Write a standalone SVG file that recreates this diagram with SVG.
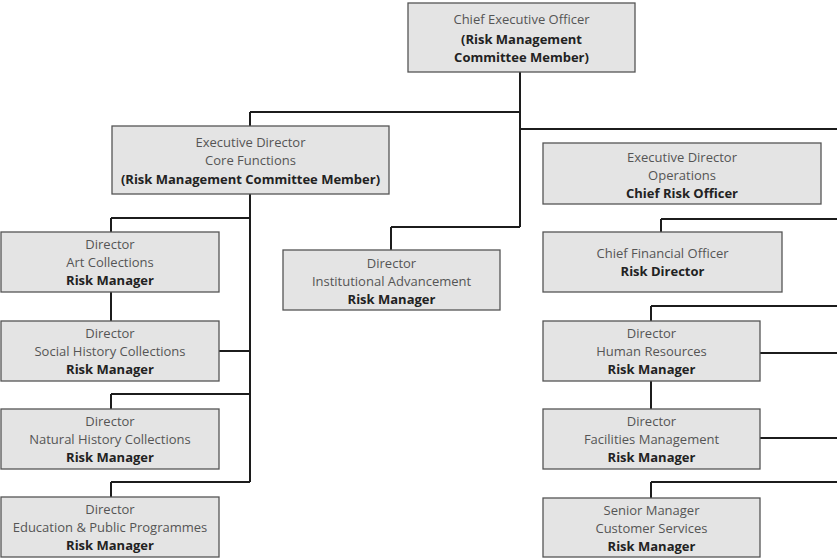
<svg xmlns="http://www.w3.org/2000/svg" width="837" height="558" viewBox="0 0 837 558">
<style>
.box{fill:#e4e4e4;stroke:#555;stroke-width:1.3}
text{font-family:"Open Sans","Liberation Sans",sans-serif;font-size:13px;text-anchor:middle;fill:#555}
.b{font-weight:bold;fill:#222}
.c{fill:none;stroke:#1c1c1c;stroke-width:2}
</style>
<rect width="837" height="558" fill="#fff"/>
<g id="connectors" class="c">
<path d="M520,72V227M250,112H520M250,112V126M520,129H837M391,227H520M391,227V250"/>
<path d="M250,194V482M111,218H250M111,218V232M111,292V321M219,351H250M111,394H250M111,394V409M111,482H250M111,482V497"/>
<path d="M661,219H837M661,219V232M651,306H837M651,306V321M760,353H837M651,381V409M760,438H837M651,482H837M651,482V498"/>
</g>
<g id="ceo"><rect class="box" x="408" y="3" width="227" height="69"/>
<text x="521.5" y="23.5">Chief Executive Officer</text><text class="b" x="521.5" y="43.5">(Risk Management</text><text class="b" x="521.5" y="62">Committee Member)</text></g>
<g id="exec-core"><rect class="box" x="112" y="126" width="277" height="68"/>
<text x="250.5" y="146.5">Executive Director</text><text x="250.5" y="165">Core Functions</text><text class="b" x="250.5" y="183.5">(Risk Management Committee Member)</text></g>
<g id="exec-ops"><rect class="box" x="543" y="143" width="278" height="61"/>
<text x="682" y="161.5">Executive Director</text><text x="682" y="179.5">Operations</text><text class="b" x="682" y="197.5">Chief Risk Officer</text></g>
<g id="art"><rect class="box" x="1" y="232" width="218" height="60"/>
<text x="110" y="248.5">Director</text><text x="110" y="266.5">Art Collections</text><text class="b" x="110" y="284.5">Risk Manager</text></g>
<g id="social"><rect class="box" x="1" y="321" width="218" height="60"/>
<text x="110" y="337.5">Director</text><text x="110" y="355.5">Social History Collections</text><text class="b" x="110" y="373.5">Risk Manager</text></g>
<g id="natural"><rect class="box" x="1" y="409" width="218" height="60"/>
<text x="110" y="425.5">Director</text><text x="110" y="443.5">Natural History Collections</text><text class="b" x="110" y="461.5">Risk Manager</text></g>
<g id="education"><rect class="box" x="1" y="497" width="218" height="60"/>
<text x="110" y="513.5">Director</text><text x="110" y="531.5">Education &amp; Public Programmes</text><text class="b" x="110" y="549.5">Risk Manager</text></g>
<g id="inst-adv"><rect class="box" x="283" y="250" width="217" height="60"/>
<text x="391.5" y="267.5">Director</text><text x="391.5" y="285.5">Institutional Advancement</text><text class="b" x="391.5" y="303.5">Risk Manager</text></g>
<g id="cfo"><rect class="box" x="543" y="232" width="239" height="60"/>
<text x="662.5" y="257.5">Chief Financial Officer</text><text class="b" x="662.5" y="275.5">Risk Director</text></g>
<g id="hr"><rect class="box" x="543" y="321" width="217" height="60"/>
<text x="651.5" y="337.5">Director</text><text x="651.5" y="355.5">Human Resources</text><text class="b" x="651.5" y="373.5">Risk Manager</text></g>
<g id="facilities"><rect class="box" x="543" y="409" width="217" height="60"/>
<text x="651.5" y="425.5">Director</text><text x="651.5" y="443.5">Facilities Management</text><text class="b" x="651.5" y="461.5">Risk Manager</text></g>
<g id="customer"><rect class="box" x="543" y="498" width="217" height="59"/>
<text x="651.5" y="514.5">Senior Manager</text><text x="651.5" y="532.5">Customer Services</text><text class="b" x="651.5" y="550.5">Risk Manager</text></g>
</svg>
